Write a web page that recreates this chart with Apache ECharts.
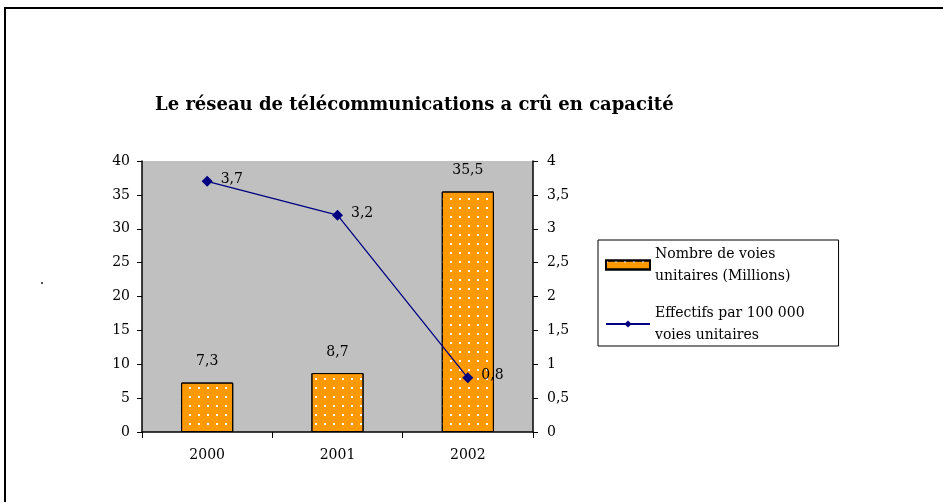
<!DOCTYPE html>
<html>
<head>
<meta charset="utf-8">
<script src="https://cdn.jsdelivr.net/npm/echarts@6/dist/echarts.min.js"></script>
<style>
  html, body { margin: 0; padding: 0; background: #fff; }
  #chart { width: 943px; height: 502px; }
</style>
</head>
<body>
<div id="chart"></div>
<script>
const years = ["2000", "2001", "2002"];
const voies = [7.3, 8.7, 35.5];
const effectifs = [3.7, 3.2, 0.8];
const leftTicks = { min: 0, max: 40, interval: 5 };
const rightTicks = { min: 0, max: 4, interval: 0.5 };

const serif = "'DejaVu Serif', 'Liberation Serif', serif";
const comma = (v) => String(v).replace(".", ",");

const chart = echarts.init(document.getElementById("chart"), null, { renderer: "canvas" });

const dots = {
  symbol: "rect",
  symbolSize: 1,
  color: "#ffffff",
  dashArrayX: [2, 7],
  dashArrayY: [2, 7],
};

chart.setOption({
  animation: false,
  backgroundColor: "#fff",
  title: {
    text: "Le réseau de télécommunications a crû en capacité",
    left: 150,
    top: 91,
    textStyle: { fontFamily: serif, fontSize: 18, fontWeight: "bold", color: "#000" },
  },
  graphic: [
    {
      type: "rect",
      shape: { x: 5, y: 8, width: 1000, height: 1000 },
      style: { fill: null, stroke: "#000", lineWidth: 2 },
      silent: true,
    },
    {
      type: "rect",
      shape: { x: 41, y: 282, width: 2, height: 2 },
      style: { fill: "#555" },
      silent: true,
    },
  ],
  grid: { left: 142, right: 410, top: 161, bottom: 70, backgroundColor: "#c0c0c0", show: true, borderWidth: 0 },
  legend: {
    orient: "vertical",
    left: 598,
    top: 240,
    padding: [3, 34, 0, 7],
    itemGap: 15,
    itemWidth: 44,
    itemHeight: 9,
    borderColor: "#000",
    borderWidth: 1,
    backgroundColor: "#fff",
    textStyle: { fontFamily: serif, fontSize: 14, color: "#000", lineHeight: 22 },
    data: [
      { name: "Nombre de voies\nunitaires (Millions)", icon: "rect" },
      { name: "Effectifs par 100 000\nvoies unitaires" },
    ],
  },
  xAxis: {
    type: "category",
    data: years,
    axisLine: { lineStyle: { color: "#000", width: 1.5 } },
    axisTick: { show: true, alignWithLabel: false, length: 6, lineStyle: { color: "#000" } },
    axisLabel: { fontFamily: serif, fontSize: 14, color: "#000", margin: 16 },
  },
  yAxis: [
    {
      type: "value",
      ...leftTicks,
      axisLine: { show: true, lineStyle: { color: "#000", width: 1.5 } },
      axisTick: { show: true, length: 5, lineStyle: { color: "#000" } },
      splitLine: { show: false },
      axisLabel: { fontFamily: serif, fontSize: 14, color: "#000", margin: 12 },
    },
    {
      type: "value",
      ...rightTicks,
      position: "right",
      axisLine: { show: true, lineStyle: { color: "#000", width: 1.5 } },
      axisTick: { show: true, length: 5, lineStyle: { color: "#000" } },
      splitLine: { show: false },
      axisLabel: { fontFamily: serif, fontSize: 14, color: "#000", margin: 14, formatter: comma },
    },
  ],
  series: [
    {
      name: "Nombre de voies\nunitaires (Millions)",
      type: "bar",
      data: voies,
      barWidth: "40%",
      itemStyle: { color: "#ff9900", borderColor: "#000", borderWidth: 1, decal: dots },
      label: {
        show: true,
        position: "top",
        distance: 14,
        fontFamily: serif,
        fontSize: 14,
        color: "#000",
        formatter: (p) => comma(p.value),
      },
    },
    {
      name: "Effectifs par 100 000\nvoies unitaires",
      type: "line",
      yAxisIndex: 1,
      data: effectifs,
      symbol: "diamond",
      symbolSize: 11,
      lineStyle: { color: "#000080", width: 1.3 },
      itemStyle: { color: "#000080" },
      label: {
        show: true,
        position: "right",
        distance: 8,
        offset: [0, -2],
        fontFamily: serif,
        fontSize: 14,
        color: "#000",
        formatter: (p) => comma(p.value),
      },
    },
  ],
});
</script>
</body>
</html>
